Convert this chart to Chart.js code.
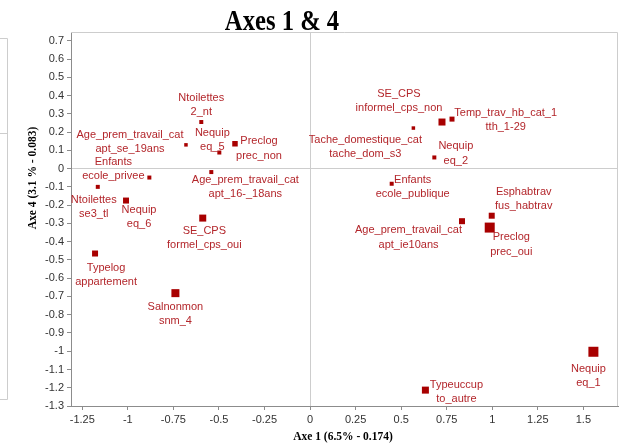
<!DOCTYPE html>
<html><head><meta charset="utf-8">
<script src="https://cdn.jsdelivr.net/npm/chart.js@4.4.1/dist/chart.umd.min.js"></script>
<style>html,body{margin:0;padding:0;background:#fff;}canvas{display:block;}</style>
</head><body>
<canvas id="c" width="619" height="443"></canvas>
<script>
// ---- data ----
const variables = [
  "Ntoilettes","Age_prem_travail_cat","Nequip","Preclog","Enfants","Ntoilettes","Age_prem_travail_cat",
  "Nequip","SE_CPS","Typelog","Salnonmon","Tache_domestique_cat","SE_CPS","Temp_trav_hb_cat_1",
  "Nequip","Enfants","Age_prem_travail_cat","Esphabtrav","Preclog","Nequip","Typeuccup"
];
const modalities = [
  "2_nt","apt_se_19ans","eq_5","prec_non","ecole_privee","se3_tl","apt_16-_18ans",
  "eq_6","formel_cps_oui","appartement","snm_4","tache_dom_s3","informel_cps_non","tth_1-29",
  "eq_2","ecole_publique","apt_ie10ans","fus_habtrav","prec_oui","eq_1","to_autre"
];
const axis1 = [-0.597,-0.681,-0.498,-0.412,-0.882,-1.165,-0.542,-1.010,-0.589,-1.180,-0.739,
               0.567,0.724,0.779,0.682,0.448,0.834,0.997,0.986,1.555,0.633];
const axis4 = [0.255,0.130,0.088,0.136,-0.049,-0.100,-0.019,-0.175,-0.271,-0.465,-0.682,
               0.222,0.255,0.271,0.061,-0.083,-0.288,-0.258,-0.323,-1.003,-1.213];
const xTickValues = [-1.25,-1,-0.75,-0.5,-0.25,0,0.25,0.5,0.75,1,1.25,1.5];
const yTickValues = [0.7,0.6,0.5,0.4,0.3,0.2,0.1,0,-0.1,-0.2,-0.3,-0.4,-0.5,-0.6,-0.7,-0.8,-0.9,-1,-1.1,-1.2,-1.3];

// ---- styles (marker sizes in px, label placement offsets) ----
const markerSides = [4,3.5,4,5.5,4,4,4,6,7,6,8,3.5,7,5,4,4,6,6,10,10,7];
const labelDx = [0,-56,-7,24,-36,-4,34,13,1.6,11,0,-48,-43,53.7,21.5,21,-53.5,32,21.6,-5,31];
const labelDy = [-24,-10,-20,-2.5,-16,13,7.7,9.3,12.4,14.6,13.4,11.7,-28,-6,-11,-4,9,-23.7,9.6,17,-5.3];

const POINT_COLOR = '#a80000';
const LABEL_COLOR = '#b3262b';
const AXIS_COLOR = '#8c8c8c';
const LIGHT = '#cdcdcd';

const points = axis1.map((x,i)=>({x:x, y:axis4[i]}));

const decorPlugin = {
  id:'decor',
  beforeDatasetsDraw(chart){
    const {ctx, chartArea:a} = chart;
    ctx.save();
    ctx.strokeStyle = LIGHT; ctx.lineWidth = 1;
    ctx.beginPath();
    ctx.moveTo(a.left, a.top+0.5); ctx.lineTo(a.right-0.5, a.top+0.5); ctx.lineTo(a.right-0.5, a.bottom);
    ctx.stroke();
    // edge of neighbouring panel on the left
    ctx.beginPath();
    ctx.moveTo(0, 38.5); ctx.lineTo(7.5, 38.5); ctx.lineTo(7.5, 399.5); ctx.lineTo(0, 399.5);
    ctx.moveTo(0, 133.5); ctx.lineTo(7.5, 133.5);
    ctx.stroke();
    ctx.restore();
  },
  afterDatasetsDraw(chart){
    const {ctx} = chart;
    const meta = chart.getDatasetMeta(0);
    ctx.save();
    ctx.font = '11px "Liberation Sans", Arial, sans-serif';
    ctx.fillStyle = LABEL_COLOR;
    ctx.textAlign = 'center';
    ctx.textBaseline = 'middle';
    meta.data.forEach((el,i)=>{
      const x = el.x + labelDx[i], y = el.y + labelDy[i];
      ctx.fillText(variables[i], x, y);
      ctx.fillText(modalities[i], x, y + 14.3);
    });
    ctx.restore();
  },
  afterDraw(chart){
    const {ctx} = chart;
    ctx.save();
    ctx.fillStyle = '#000';
    ctx.textAlign = 'center';
    // main title
    ctx.save();
    ctx.translate(282, 29.5);
    ctx.scale(0.85, 1);
    ctx.font = 'bold 29px "Liberation Serif", serif';
    ctx.textBaseline = 'alphabetic';
    ctx.fillText('Axes 1 & 4', 0, 0);
    ctx.restore();
    // x title
    ctx.font = 'bold 11.5px "Liberation Serif", serif';
    ctx.textBaseline = 'middle';
    ctx.fillText('Axe 1 (6.5% - 0.174)', 343, 437);
    // y title
    ctx.save();
    ctx.translate(33, 178);
    ctx.rotate(-Math.PI/2);
    ctx.fillText('Axe 4 (3.1 % - 0.083)', 0, 0);
    ctx.restore();
    ctx.restore();
  }
};

const zeroGrid = (c) => (c.tick && Math.abs(c.tick.value) < 1e-9) ? LIGHT : 'rgba(0,0,0,0)';

new Chart(document.getElementById('c'), {
  type:'scatter',
  data:{ datasets:[{
    data: points,
    pointStyle:'rect',
    pointRadius: markerSides.map(s => s/Math.SQRT2),
    pointHoverRadius: markerSides.map(s => s/Math.SQRT2),
    backgroundColor: POINT_COLOR,
    borderColor: POINT_COLOR,
    borderWidth: 0
  }]},
  options:{
    responsive:false,
    animation:false,
    devicePixelRatio:1,
    layout:{autoPadding:false, padding:{top:32,right:1,left:0,bottom:0}},
    plugins:{legend:{display:false}, tooltip:{enabled:false}, title:{display:false}},
    scales:{
      x:{
        type:'linear', min:-1.312, max:1.690,
        afterBuildTicks(s){ s.ticks = xTickValues.map(v=>({value:v})); },
        afterFit(s){ s.height = 37; s.paddingLeft = 0; s.paddingRight = 0; },
        grid:{color:zeroGrid, tickColor:AXIS_COLOR, tickLength:4, drawTicks:true},
        border:{display:true, color:AXIS_COLOR},
        ticks:{padding:3, maxRotation:0, autoSkip:false, color:'#333',
          font:{family:'"Liberation Sans", Arial, sans-serif', size:11},
          callback:(v)=>String(+Number(v).toFixed(2))}
      },
      y:{
        type:'linear', min:-1.3, max:0.748,
        afterBuildTicks(s){ s.ticks = yTickValues.map(v=>({value:v})); },
        afterFit(s){ s.width = 71; s.paddingTop = 0; s.paddingBottom = 0; },
        grid:{color:zeroGrid, tickColor:AXIS_COLOR, tickLength:4, drawTicks:true},
        border:{display:true, color:AXIS_COLOR},
        ticks:{padding:3, autoSkip:false, color:'#333',
          font:{family:'"Liberation Sans", Arial, sans-serif', size:11},
          callback:(v)=>String(+Number(v).toFixed(1))}
      }
    }
  },
  plugins:[decorPlugin]
});
</script>
</body></html>
